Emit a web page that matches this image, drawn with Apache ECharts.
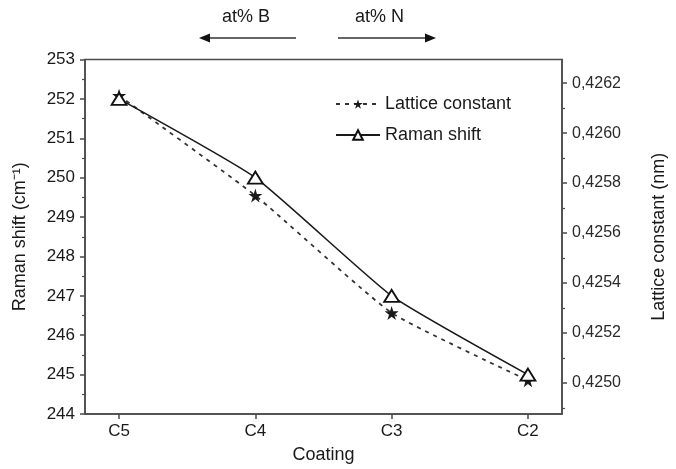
<!DOCTYPE html>
<html>
<head>
<meta charset="utf-8">
<script src="https://cdn.jsdelivr.net/npm/echarts@6/dist/echarts.min.js"></script>
<style>html,body{margin:0;padding:0;background:#fff}#c{width:676px;height:469px}</style>
</head>
<body>
<div id="c"></div>
<script>
var categories = ['C5', 'C4', 'C3', 'C2'];
var ramanShift = [252.0, 250.0, 247.0, 245.0];
var latticeConstant = [0.42615, 0.42575, 0.42528, 0.42501];
var rightTicks = [0.4250, 0.4252, 0.4254, 0.4256, 0.4258, 0.4260, 0.4262];
var rightMinorTicks = [0.4249, 0.4251, 0.4253, 0.4255, 0.4257, 0.4259, 0.4261];

var FONT = '"Liberation Sans", Arial, sans-serif';
var STAR = 'path://M50,0 L61,35 L98,35 L68,57 L79,91 L50,70 L21,91 L32,57 L2,35 L39,35 Z';

function pairs(arr) { return arr.map(function (v, i) { return [i, v]; }); }

var chart = echarts.init(document.getElementById('c'), null, { renderer: 'canvas' });
var axisLine = { show: true, onZero: false, lineStyle: { color: '#4a4a4a', width: 1.5 } };

chart.setOption({
  animation: false,
  backgroundColor: '#fff',
  grid: { left: 85, right: 114, top: 59.5, bottom: 54.5, show: true, borderColor: '#4a4a4a', borderWidth: 1.5 },
  legend: {
    left: 330, top: 90, orient: 'vertical', itemGap: 13, itemWidth: 44, itemHeight: 12,
    textStyle: { fontFamily: FONT, fontSize: 18, color: '#1a1a1a' },
    data: ['Lattice constant', 'Raman shift']
  },
  xAxis: {
    type: 'value', min: -0.25, max: 3.25,
    name: 'Coating', nameLocation: 'middle', nameGap: 32,
    nameTextStyle: { fontFamily: FONT, fontSize: 18, color: '#1a1a1a' },
    axisLine: axisLine,
    splitLine: { show: false },
    axisTick: { show: true, inside: false, length: 5, customValues: [0, 1, 2, 3], lineStyle: { color: '#4a4a4a', width: 1.5 } },
    axisLabel: { customValues: [0, 1, 2, 3], margin: 9, fontFamily: FONT, fontSize: 17, color: '#1a1a1a',
      formatter: function (v) { return categories[Math.round(v)]; } }
  },
  yAxis: [
    {
      type: 'value', min: 244, max: 253, interval: 1, position: 'left',
      name: 'Raman shift (cm⁻¹)', nameLocation: 'middle', nameGap: 56,
      nameTextStyle: { fontFamily: FONT, fontSize: 18, color: '#1a1a1a' },
      axisLine: axisLine,
      splitLine: { show: false },
      axisTick: { show: true, length: 5, lineStyle: { color: '#4a4a4a', width: 1.5 } },
      minorTick: { show: true, splitNumber: 2, length: 3, lineStyle: { color: '#4a4a4a', width: 1.2 } },
      axisLabel: { margin: 10, fontFamily: FONT, fontSize: 17, color: '#1a1a1a' }
    },
    {
      type: 'value', min: 0.424875, max: 0.426295, position: 'right',
      name: 'Lattice constant (nm)', nameLocation: 'middle', nameGap: 88, nameRotate: 90,
      nameTextStyle: { fontFamily: FONT, fontSize: 18, color: '#1a1a1a' },
      axisLine: axisLine,
      splitLine: { show: false },
      axisTick: { show: true, length: 5, customValues: rightTicks, lineStyle: { color: '#4a4a4a', width: 1.5 } },
      axisLabel: { customValues: rightTicks, margin: 10, fontFamily: FONT, fontSize: 16, color: '#2a2a2a',
        formatter: function (v) { return v.toFixed(4).replace('.', ','); } }
    },
    {
      type: 'value', min: 0.424875, max: 0.426295, position: 'right',
      axisLine: { show: false, onZero: false },
      splitLine: { show: false },
      axisTick: { show: true, length: 3, customValues: rightMinorTicks, lineStyle: { color: '#4a4a4a', width: 1.2 } },
      axisLabel: { show: false }
    }
  ],
  series: [
    {
      name: 'Lattice constant', type: 'line', yAxisIndex: 1, smooth: 0.15,
      data: pairs(latticeConstant),
      symbol: STAR, symbolSize: 14,
      lineStyle: { color: '#333', width: 1.8, type: [4, 5] },
      itemStyle: { color: '#1a1a1a', borderWidth: 0 },
      z: 2
    },
    {
      name: 'Raman shift', type: 'line', yAxisIndex: 0, smooth: 0.15,
      data: pairs(ramanShift),
      symbol: 'triangle', symbolSize: [15, 12],
      lineStyle: { color: '#1a1a1a', width: 1.6 },
      itemStyle: { color: '#fff', borderColor: '#111', borderWidth: 1.8 },
      z: 3
    }
  ],
  graphic: [
    { type: 'text', left: 222, top: 8, style: { text: 'at% B', font: '18px ' + FONT, fill: '#1a1a1a' } },
    { type: 'text', left: 355, top: 8, style: { text: 'at% N', font: '18px ' + FONT, fill: '#1a1a1a' } },
    { type: 'line', shape: { x1: 206, y1: 38, x2: 296, y2: 38 }, style: { stroke: '#333', lineWidth: 1.5 } },
    { type: 'polygon', shape: { points: [[199, 38], [210, 33.5], [210, 42.5]] }, style: { fill: '#111' } },
    { type: 'line', shape: { x1: 338, y1: 38, x2: 428, y2: 38 }, style: { stroke: '#333', lineWidth: 1.5 } },
    { type: 'polygon', shape: { points: [[436, 38], [425, 33.5], [425, 42.5]] }, style: { fill: '#111' } }
  ]
});
</script>
</body>
</html>
